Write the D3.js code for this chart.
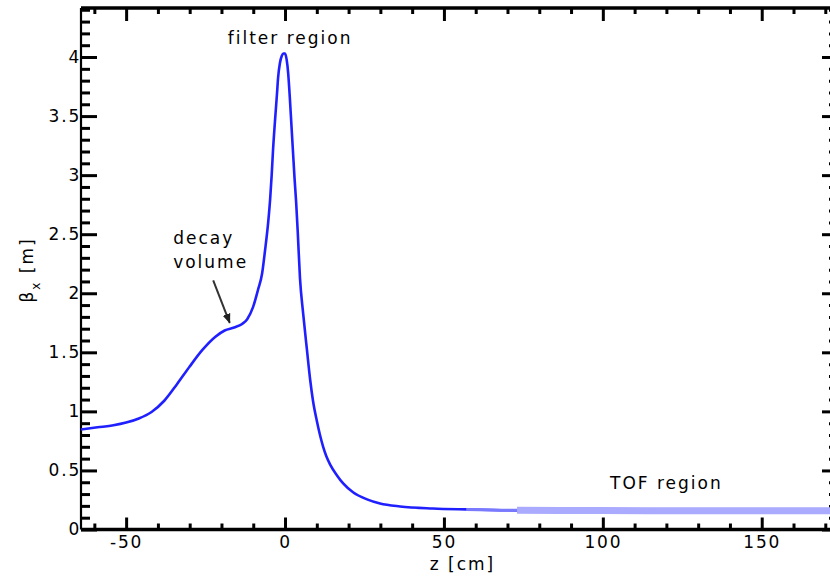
<!DOCTYPE html>
<html>
<head>
<meta charset="utf-8">
<script src="https://cdn.jsdelivr.net/npm/d3@7"></script>
<style>
body { margin: 0; background: #fff; }
svg { display: block; }
.tick text, .lbl { font-family: "DejaVu Sans", sans-serif; font-size: 17px; fill: #000; }
.tick text { letter-spacing: 1.8px; }
.lbl { letter-spacing: 2px; }
</style>
</head>
<body>
<div id="chart"></div>
<script>
// beta function along the beam line
var zValues = [-64.2, -59, -54, -50, -46, -42, -38, -34, -30, -26, -22, -19,
    -16, -13.5, -11.9, -10.1, -8.5, -7.2, -6.3, -5.3, -4.7, -4.2, -3.8, -3.1, -2.5, -2.2, -1.6, -1.0,
    -0.5, 0, 0.5, 1.0, 1.5, 2.0, 2.5, 3.0, 3.5, 4.0, 4.7, 5.7, 6.9, 7.9, 8.8, 10, 11, 12, 13, 14.2, 16.3,
    18.3, 21.4, 25.8, 29.9, 36.2, 46.5, 57, 73, 99, 130, 174];
var betaValues = [0.847, 0.865, 0.882, 0.905, 0.94, 0.995, 1.09, 1.23, 1.38, 1.52, 1.63, 1.685,
    1.71, 1.74, 1.78, 1.88, 2.03, 2.17, 2.36, 2.6, 2.79, 3.0, 3.2, 3.48, 3.7, 3.82, 3.95, 4.01,
    4.03, 4.03, 3.98, 3.86, 3.66, 3.43, 3.2, 2.97, 2.77, 2.52, 2.13, 1.83, 1.52, 1.27, 1.09, 0.92, 0.80, 0.70, 0.62, 0.55, 0.46,
    0.39, 0.315, 0.255, 0.22, 0.195, 0.178, 0.17, 0.162, 0.16, 0.159, 0.158];

var xMajorTicks = [-50, 0, 50, 100, 150];
var xTickLabels = ["-50", "0", "50", "100", "150"];
var yMajorTicks = [0, 0.5, 1, 1.5, 2, 2.5, 3, 3.5, 4];
var yTickLabels = ["0", "0.5", "1", "1.5", "2", "2.5", "3", "3.5", "4"];

var data = zValues.map(function (z, i) { return { z: z, b: betaValues[i] }; });

var W = 830, H = 586;
var plotL = 81, plotR = 838, plotT = 8, plotB = 529.5;

var svg = d3.select("#chart").append("svg")
    .attr("width", W)
    .attr("height", H);

var x = d3.scaleLinear().domain([-64.2, 174]).range([plotL, plotR]);
var y = d3.scaleLinear().domain([0, 4.415]).range([plotB, plotT]);

var xMinor = d3.range(-60, 171, 10).filter(function (v) { return v % 50 !== 0; });
var yMinor = d3.range(1, 45, 1).map(function (v) { return v / 10; }).filter(function (v) { return Math.round(v * 10) % 5 !== 0; });

function styleAxis(g, w) {
    g.select(".domain").remove();
    g.selectAll(".tick line").attr("stroke", "#000").attr("stroke-width", w);
}

// bottom
svg.append("g").attr("transform", "translate(0," + plotB + ")")
    .call(d3.axisBottom(x).tickValues(xMinor).tickSize(-6).tickFormat(""))
    .call(styleAxis, 3);
svg.append("g").attr("transform", "translate(0," + plotB + ")")
    .call(d3.axisBottom(x).tickValues(xMajorTicks).tickSize(-12).tickPadding(6)
        .tickFormat(function (d, i) { return xTickLabels[i]; }))
    .call(styleAxis, 3);
// top
svg.append("g").attr("transform", "translate(0," + plotT + ")")
    .call(d3.axisTop(x).tickValues(xMinor).tickSize(-6).tickFormat(""))
    .call(styleAxis, 3);
svg.append("g").attr("transform", "translate(0," + plotT + ")")
    .call(d3.axisTop(x).tickValues(xMajorTicks).tickSize(-13).tickFormat(""))
    .call(styleAxis, 3);
// left
svg.append("g").attr("transform", "translate(" + plotL + ",0)")
    .call(d3.axisLeft(y).tickValues(yMinor).tickSize(-9).tickFormat(""))
    .call(styleAxis, 3);
svg.append("g").attr("transform", "translate(" + plotL + ",0)")
    .call(d3.axisLeft(y).tickValues(yMajorTicks).tickSize(-16).tickPadding(0)
        .tickFormat(function (d, i) { return yTickLabels[i]; }))
    .call(styleAxis, 3);
// right
svg.append("g").attr("transform", "translate(" + plotR + ",0)")
    .call(d3.axisRight(y).tickValues(yMinor).tickSize(-9).tickFormat(""))
    .call(styleAxis, 3);
svg.append("g").attr("transform", "translate(" + plotR + ",0)")
    .call(d3.axisRight(y).tickValues(yMajorTicks).tickSize(-16).tickFormat(""))
    .call(styleAxis, 3);

// frame
svg.append("line").attr("x1", plotL).attr("x2", plotR).attr("y1", plotT).attr("y2", plotT)
    .attr("stroke", "#000").attr("stroke-width", 3.3);
svg.append("line").attr("x1", plotL).attr("x2", plotR).attr("y1", plotB).attr("y2", plotB)
    .attr("stroke", "#000").attr("stroke-width", 3.3);
svg.append("line").attr("x1", plotL).attr("x2", plotL).attr("y1", plotT).attr("y2", plotB)
    .attr("stroke", "#000").attr("stroke-width", 2.2);
svg.append("line").attr("x1", plotR).attr("x2", plotR).attr("y1", plotT).attr("y2", plotB)
    .attr("stroke", "#000").attr("stroke-width", 2.2);

// curve
var line = d3.line()
    .x(function (d) { return x(d.z); })
    .y(function (d) { return y(d.b); })
    .curve(d3.curveMonotoneX);

svg.append("path").datum(data)
    .attr("fill", "none").attr("stroke", "#2020ff").attr("stroke-width", 2.6)
    .attr("d", line);
svg.append("path").datum(data.filter(function (d) { return d.z >= 57; }))
    .attr("fill", "none").attr("stroke", "#7a7aff").attr("stroke-width", 3)
    .attr("d", line);
svg.append("path").datum(data.filter(function (d) { return d.z >= 73; }))
    .attr("fill", "none").attr("stroke", "#aaaaff").attr("stroke-width", 7)
    .attr("d", line);

// labels
svg.append("text").attr("class", "lbl")
    .attr("x", (plotL + plotR) / 2 + 3).attr("y", 570)
    .attr("text-anchor", "middle").text("z [cm]");
svg.append("text").attr("class", "lbl")
    .attr("transform", "translate(33," + 270 + ") rotate(-90)")
    .attr("text-anchor", "middle")
    .html('β<tspan baseline-shift="sub" font-size="12px">x</tspan> [m]');

// annotations
svg.append("text").attr("class", "lbl")
    .attr("x", x(1.6)).attr("y", y(4.11))
    .attr("text-anchor", "middle").text("filter region");
svg.append("text").attr("class", "lbl")
    .attr("x", x(-35.2)).attr("y", y(2.415)).text("decay");
svg.append("text").attr("class", "lbl")
    .attr("x", x(-35.2)).attr("y", y(2.21)).text("volume");
svg.append("text").attr("class", "lbl")
    .attr("x", x(120)).attr("y", y(0.34))
    .attr("text-anchor", "middle").text("TOF region");

svg.append("defs").append("marker")
    .attr("id", "arrow").attr("viewBox", "0 0 10 10")
    .attr("refX", 9).attr("refY", 5)
    .attr("markerWidth", 5).attr("markerHeight", 5)
    .attr("orient", "auto")
    .append("path").attr("d", "M0,1 L10,5 L0,9 Z").attr("fill", "#222");
svg.append("line")
    .attr("x1", x(-22.6)).attr("y1", y(2.11))
    .attr("x2", x(-17.4)).attr("y2", y(1.75))
    .attr("stroke", "#333").attr("stroke-width", 2)
    .attr("marker-end", "url(#arrow)");
</script>
</body>
</html>
